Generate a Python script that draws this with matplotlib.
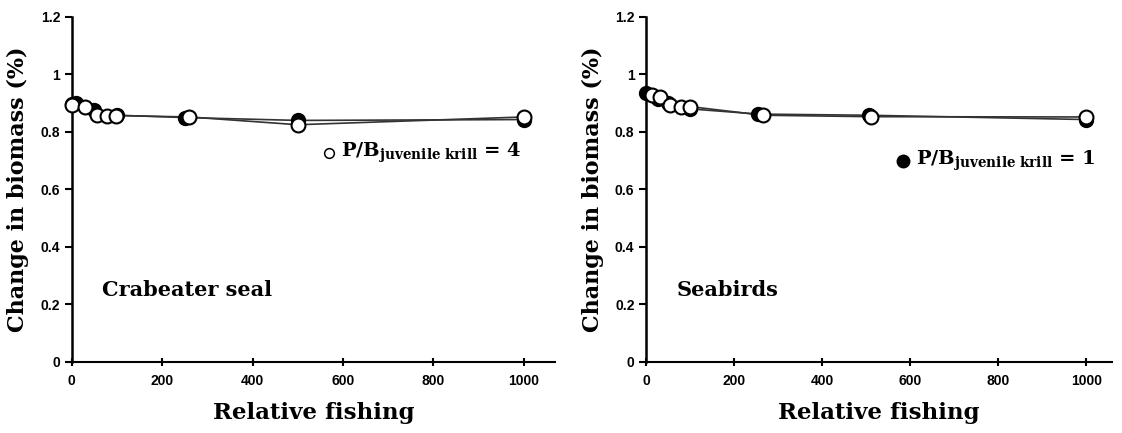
import numpy as np
import matplotlib.pyplot as plt

# relative fishing levels and biomass change
seal_x_pb4 = [0, 30, 55, 77, 97, 260, 500, 1000]
seal_y_pb4 = [0.893, 0.885, 0.858, 0.857, 0.857, 0.852, 0.825, 0.852]
seal_x_pb1 = [0, 10, 50, 100, 250, 500, 1000]
seal_y_pb1 = [0.897, 0.900, 0.875, 0.858, 0.850, 0.840, 0.843]

bird_x_pb4 = [12, 32, 55, 78, 100, 265, 510, 1000]
bird_y_pb4 = [0.930, 0.922, 0.892, 0.888, 0.888, 0.858, 0.853, 0.852]
bird_x_pb1 = [0, 27, 50, 100, 255, 505, 1000]
bird_y_pb1 = [0.935, 0.913, 0.900, 0.880, 0.862, 0.858, 0.843]

panels = [
    ("Crabeater seal", seal_x_pb4, seal_y_pb4, seal_x_pb1, seal_y_pb1,
     "open", (568, 0.728), "4"),
    ("Seabirds", bird_x_pb4, bird_y_pb4, bird_x_pb1, bird_y_pb1,
     "filled", (584, 0.70), "1"),
]

serif = "DejaVu Serif"
plt.rcParams["mathtext.fontset"] = "dejavuserif"

fig = plt.figure(figsize=(11.22, 4.33), dpi=100)
axes = [fig.add_axes([0.064, 0.164, 0.431, 0.797]),
        fig.add_axes([0.576, 0.164, 0.415, 0.797])]
xmax = [1070, 1058]

for ax, xm, (name, x4, y4, x1, y1, key, kpos, pb) in zip(axes, xmax, panels):
    ax.plot(x1, y1, color="#333333", lw=1.2, zorder=2)
    ax.plot(x4, y4, color="#333333", lw=1.2, zorder=2)
    ax.plot(x1, y1, "o", ms=10, mfc="black", mec="black", lw=0, zorder=3, clip_on=False)
    ax.plot(x4, y4, "o", ms=10, mfc="white", mec="black", mew=1.5, lw=0, zorder=4,
            clip_on=False)

    if key == "open":
        ax.plot(*kpos, "o", ms=7, mfc="white", mec="black", mew=1.1, clip_on=False)
    else:
        ax.plot(*kpos, "o", ms=9, mfc="black", mec="black", clip_on=False)
    ax.annotate(r"$\mathbf{P/B_{juvenile\ krill}}$ = " + pb, kpos,
                xytext=(9, 0), textcoords="offset points",
                fontsize=14, fontweight="bold", family=serif, va="center",
                annotation_clip=False)

    ax.annotate(name, (0, 0.25), xytext=(22, 0), textcoords="offset points",
                fontsize=15, fontweight="bold", family=serif, va="center")

    ax.set_xlim(0, xm)
    ax.set_ylim(0, 1.2)
    ax.set_xticks([0, 200, 400, 600, 800, 1000])
    ax.set_yticks([0, 0.2, 0.4, 0.6, 0.8, 1.0, 1.2])
    ax.set_yticklabels(["0", "0.2", "0.4", "0.6", "0.8", "1", "1.2"])
    for lab in ax.get_xticklabels() + ax.get_yticklabels():
        lab.set_fontweight("bold")
        lab.set_fontsize(10)
        lab.set_family("Liberation Sans")
    ax.tick_params(axis="y", direction="out", length=5, width=1.5)
    ax.tick_params(axis="x", direction="inout", length=6, width=1.5, pad=6)
    ax.spines["top"].set_visible(False)
    ax.spines["right"].set_visible(False)
    ax.spines["left"].set_linewidth(1.8)
    ax.spines["bottom"].set_linewidth(1.5)
    ax.set_xlabel("Relative fishing", fontsize=16.5, fontweight="bold", family=serif, labelpad=10)
    ax.set_ylabel("Change in biomass (%)", fontsize=16, fontweight="bold", family=serif, labelpad=8)

fig.savefig("out.png", dpi=100)
